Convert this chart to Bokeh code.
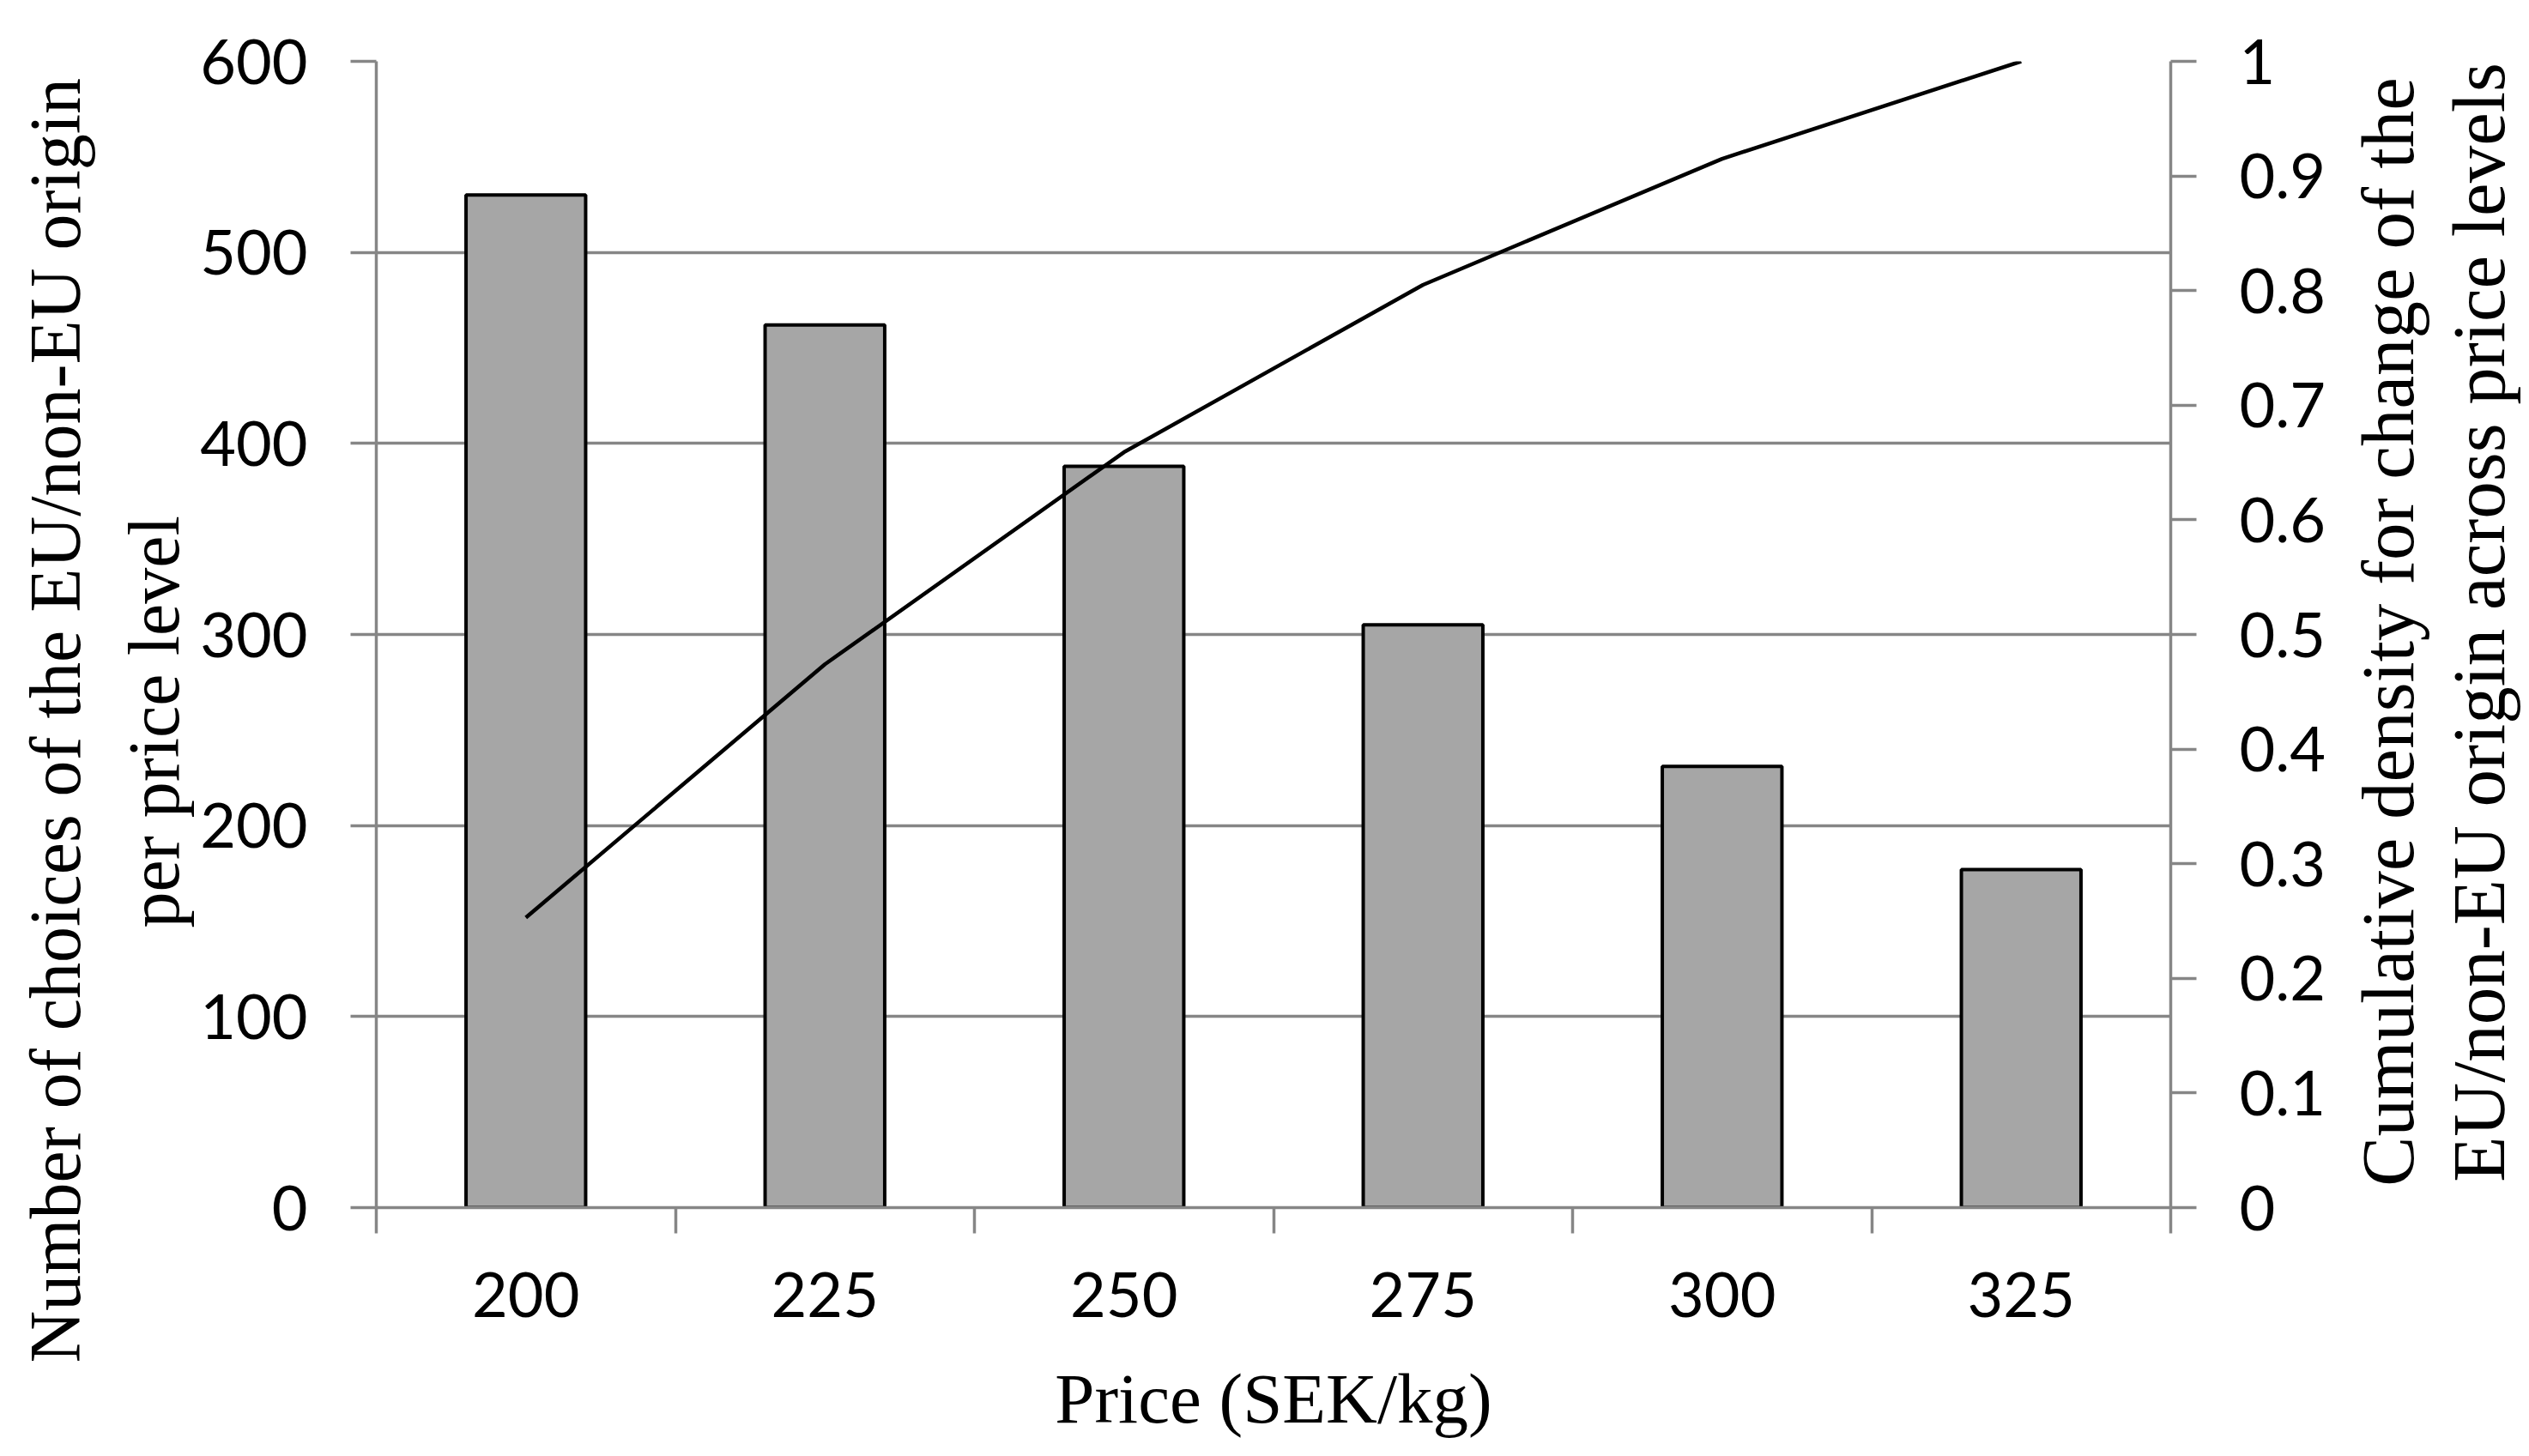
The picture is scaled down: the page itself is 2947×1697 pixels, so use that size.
import math
from bokeh.plotting import figure
from bokeh.models import Range1d, LinearAxis, FixedTicker, Title, Label
from bokeh.embed import file_html
from bokeh.resources import INLINE

# ---- data ----
prices = [200, 225, 250, 275, 300, 325]
choices = [530, 462, 388, 305, 231, 177]
cumulative = [0.253, 0.474, 0.659, 0.805, 0.915, 1.0]
category_bounds = [187.5, 212.5, 237.5, 262.5, 287.5, 312.5, 337.5]
left_ticks = [0, 100, 200, 300, 400, 500, 600]
right_ticks = [0, 0.1, 0.2, 0.3, 0.4, 0.5, 0.6, 0.7, 0.8, 0.9, 1.0]
right_tick_labels = ["0", "0.1", "0.2", "0.3", "0.4", "0.5", "0.6", "0.7", "0.8", "0.9", "1"]
x_title = "Price (SEK/kg)"
left_title = ["Number of choices of the EU/non-EU origin", "per price level"]
right_title = ["Cumulative density  for change of the", "EU/non-EU origin across price levels"]

GRAY = "#868686"
TICK_FONT = "Lato"
TITLE_FONT = "Liberation Serif"

p = figure(width=2947, height=1697, output_backend="svg", toolbar_location=None,
           x_range=Range1d(category_bounds[0], category_bounds[-1]),
           y_range=Range1d(left_ticks[0], left_ticks[-1]),
           min_border_left=432, min_border_right=418, min_border_top=71, min_border_bottom=290)
p.extra_y_ranges = {"right": Range1d(right_ticks[0], right_ticks[-1])}
p.outline_line_color = None
p.background_fill_color = "white"
p.border_fill_color = "white"

p.xgrid.visible = False
p.ygrid.grid_line_color = GRAY
p.ygrid.grid_line_width = 3.5
p.ygrid.ticker = FixedTicker(ticks=left_ticks)

p.vbar(x=prices, top=choices, width=10, bottom=0, fill_color="#a6a6a6",
       line_color="black", line_width=4)
p.line(prices, cumulative, y_range_name="right", line_color="black", line_width=4.5)

# x axis
xa = p.xaxis[0]
xa.ticker = FixedTicker(ticks=prices, minor_ticks=category_bounds)
xa.major_tick_out = 0
xa.major_tick_in = 0
xa.minor_tick_out = 30
xa.minor_tick_in = 0
xa.minor_tick_line_color = GRAY
xa.minor_tick_line_width = 3.5
xa.axis_line_color = GRAY
xa.axis_line_width = 3.5
xa.major_label_text_font = TICK_FONT
xa.major_label_text_font_size = "72px"
xa.major_label_text_color = "black"
xa.major_label_standoff = 45
xa.axis_label = x_title
xa.axis_label_text_font = TITLE_FONT
xa.axis_label_text_font_style = "normal"
xa.axis_label_text_font_size = "83px"
xa.axis_label_text_color = "black"
xa.axis_label_standoff = 46

# left axis
ya = p.yaxis[0]
ya.ticker = FixedTicker(ticks=left_ticks)
ya.major_tick_out = 30
ya.major_tick_in = 0
ya.minor_tick_out = 0
ya.minor_tick_in = 0
ya.major_tick_line_color = GRAY
ya.major_tick_line_width = 3.5
ya.axis_line_color = GRAY
ya.axis_line_width = 3.5
ya.major_label_text_font = TICK_FONT
ya.major_label_text_font_size = "72px"
ya.major_label_text_color = "black"
ya.major_label_standoff = 50

# right axis
ra = LinearAxis(y_range_name="right", ticker=FixedTicker(ticks=right_ticks),
                major_label_overrides=dict(zip(right_ticks, right_tick_labels)))
ra.major_tick_out = 30
ra.major_tick_in = 0
ra.minor_tick_out = 0
ra.minor_tick_in = 0
ra.major_tick_line_color = GRAY
ra.major_tick_line_width = 3.5
ra.axis_line_color = GRAY
ra.axis_line_width = 3.5
ra.major_label_text_font = TICK_FONT
ra.major_label_text_font_size = "72px"
ra.major_label_text_color = "black"
ra.major_label_standoff = 50
p.add_layout(ra, "right")

# left titles (reading bottom to top), inner line first
def side_title(text, offset, standoff):
    return Title(text=text, align="left", offset=offset, standoff=standoff,
                 text_font=TITLE_FONT, text_font_size="84px",
                 text_font_style="normal", text_color="black")

p.add_layout(side_title(left_title[1], 326, 10), "left")
p.add_layout(side_title(left_title[0], -181, 30), "left")

# right title (two lines, reading bottom to top), placed in the right side panel
right_label = Label(text="\n".join(right_title), x=20, y=682, x_units="screen", y_units="screen",
                    angle=math.pi / 2, text_align="center", text_baseline="top",
                    text_line_height=1.1,
                    text_font=TITLE_FONT, text_font_size="87px", text_color="black")
p.add_layout(right_label, "right")

open("out.html", "w").write(file_html(p, INLINE))
